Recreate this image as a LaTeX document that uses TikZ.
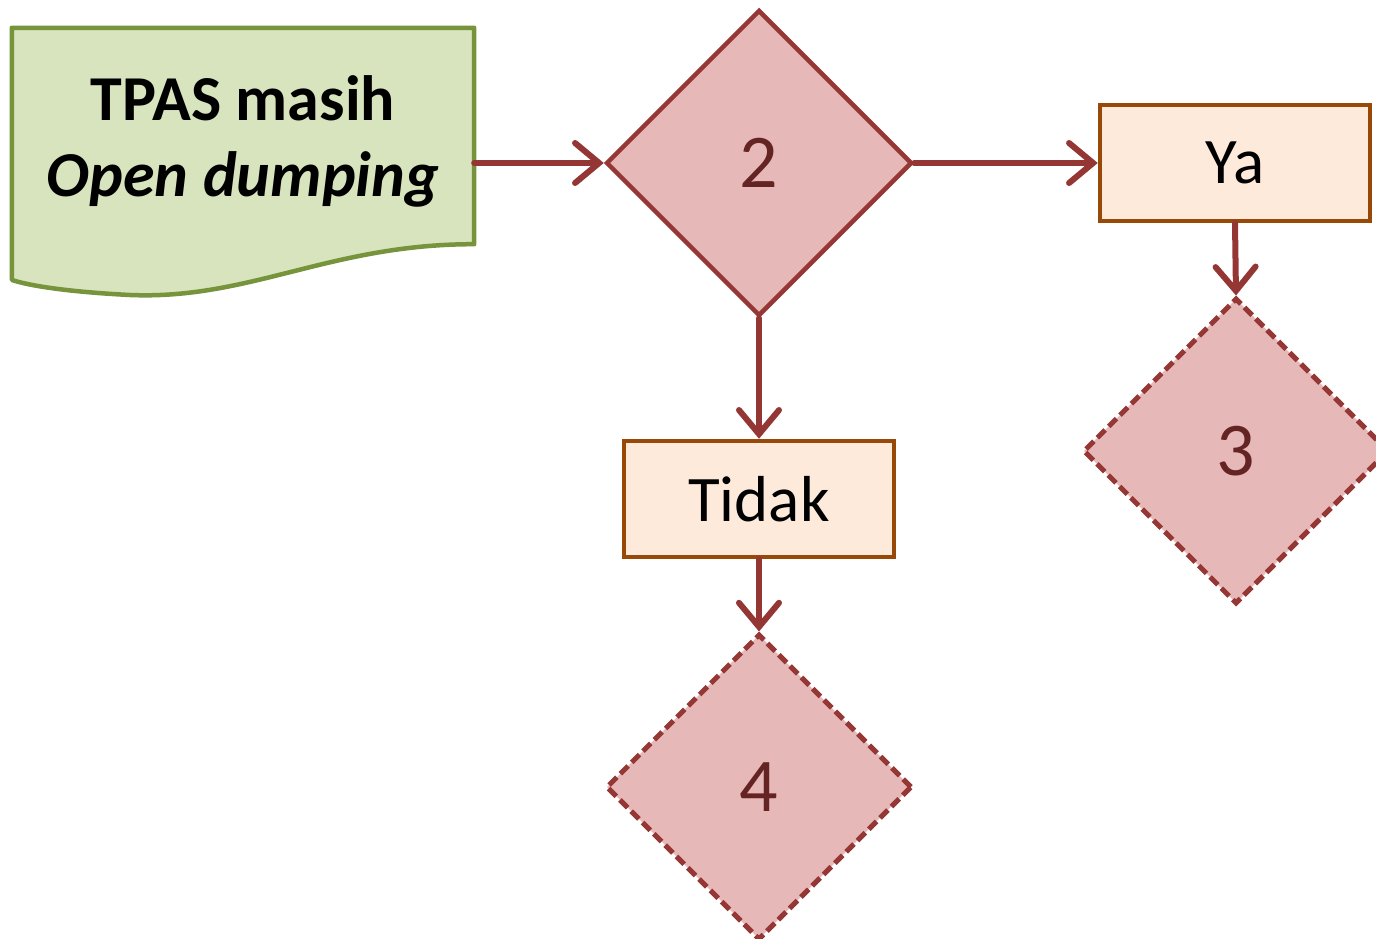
\documentclass[tikz,border=0pt]{standalone}
\usepackage{fontspec}
\setmainfont{Carlito}
\usetikzlibrary{shapes.geometric,arrows.meta}
\definecolor{docfill}{HTML}{D7E4BD}
\definecolor{docline}{HTML}{77933C}
\definecolor{dfill}{HTML}{E6B9B8}
\definecolor{dline}{HTML}{953735}
\definecolor{dtext}{HTML}{632423}
\definecolor{bfill}{HTML}{FDEADA}
\definecolor{bline}{HTML}{984807}
\definecolor{arr}{HTML}{943634}
\tikzset{
  dec/.style={diamond, aspect=1, minimum width=306pt, minimum height=306pt, inner sep=0pt,
    fill=dfill, draw=dline, line width=4.5pt, text=dtext, font=\fontsize{76}{80}\selectfont},
  decdash/.style={dec, line width=5pt, dash pattern=on 11pt off 5pt},
  ansbox/.style={rectangle, minimum width=270pt, minimum height=116pt, inner sep=0pt,
    fill=bfill, draw=bline, line width=4.5pt, font=\fontsize{65}{70}\selectfont},
  flow/.style={draw=arr, line width=6pt, line cap=round,
    -{Straight Barb[length=24pt,width=40pt,line width=6pt,line cap=round]}},
}
\begin{document}
\begin{tikzpicture}[x=1pt,y=-1pt]
\useasboundingbox (0,0) rectangle (1376,939);
\clip (0,0) rectangle (1376,939);
% document shape
\node[minimum width=462pt, minimum height=216pt, inner sep=0pt] (doc) at (243,136) {};
\draw[fill=docfill, draw=docline, line width=4.5pt, line join=round]
  (doc.north west) -- (doc.north east) -- (doc.south east)
  .. controls (330,244) and (250,300) .. (130,295)
  .. controls (70,292) and (30,286) .. (12,280) -- cycle;
\node[align=center, font=\fontsize{64}{76}\selectfont\bfseries] (doctext) at (243,141)
  {TPAS masih\\\itshape Open dumping};
% decisions and answers
\node[dec] (d2) at (759,163) {2};
\node[ansbox] (ya) at (1235,163) {Ya};
\node[ansbox] (tidak) at (759,499) {Tidak};
\node[decdash] (d3) at (1236,451) {3};
\node[decdash] (d4) at (759,787) {4};
% connectors
\draw[flow] (doc.east |- d2.west) -- (d2.west);
\draw[flow] (d2.east) -- (ya.west);
\draw[flow] (d2.south) -- (tidak.north);
\draw[flow] (ya.south) -- (d3.north);
\draw[flow] (tidak.south) -- (d4.north);
\end{tikzpicture}
\end{document}
